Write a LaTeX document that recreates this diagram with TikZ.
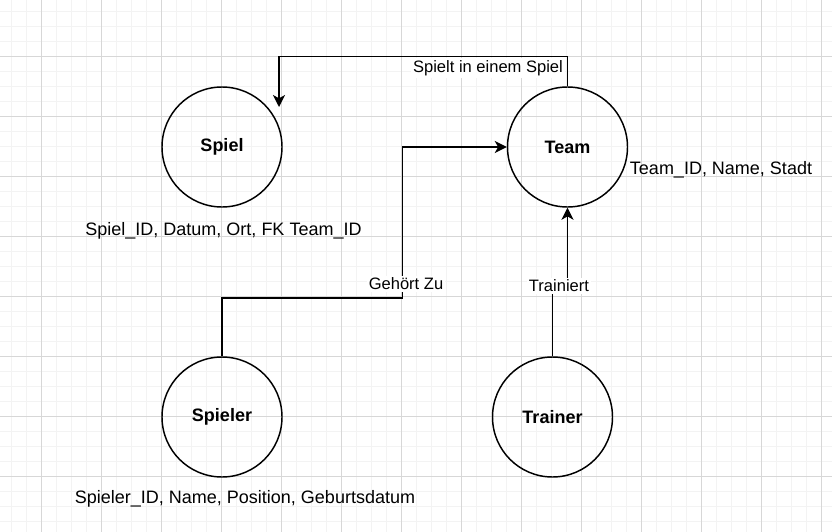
\documentclass[tikz,border=0pt]{standalone}
\usepackage{fontspec}
\setmainfont{Liberation Sans}
\usetikzlibrary{arrows.meta,calc}
\definecolor{gridminor}{RGB}{243,243,243}
\definecolor{gridmajor}{RGB}{215,215,215}
\tikzset{
	entity/.style={circle,draw,line width=1.1pt,minimum size=90pt,inner sep=0,font=\bfseries\fontsize{13.5pt}{15pt}\selectfont},
	attr/.style={inner sep=1pt,font=\fontsize{13.5pt}{15pt}\selectfont},
	rel/.style={line width=1.1pt,-{Stealth[length=9pt,width=9pt,inset=2.5pt]}},
	edgelabel/.style={fill=white,inner sep=1.5pt,font=\fontsize{12.4pt}{14pt}\selectfont}
}
\begin{document}
\begin{tikzpicture}[x=0.75pt,y=-0.75pt]
	\useasboundingbox (0,0) rectangle (832,532);
	\fill[white] (0,0) rectangle (832,532);
	% Raster
	\foreach \k in {0,...,55} {
		\draw[gridminor,line width=0.6pt] ({11.7+15*\k},0) -- ({11.7+15*\k},532);
	}
	\foreach \k in {0,...,35} {
		\draw[gridminor,line width=0.6pt] (0,{11.7+15*\k}) -- (832,{11.7+15*\k});
	}
	\foreach \k in {0,...,13} {
		\draw[gridmajor,line width=0.6pt] ({41.7+60*\k},0) -- ({41.7+60*\k},532);
	}
	\foreach \k in {0,...,8} {
		\draw[gridmajor,line width=0.6pt] (0,{56.7+60*\k}) -- (832,{56.7+60*\k});
	}
	% Entitaeten
	\node [entity] (spiel) at (222,147) {\raisebox{-1pt}{Spiel}};
	\node [entity] (team) at (567.5,147) {\raisebox{-1pt}{Team}};
	\node [entity] (spieler) at (222,417) {\raisebox{-1pt}{Spieler}};
	\node [entity] (trainer) at (552.5,417) {\raisebox{-1pt}{Trainer}};
	% Attribute
	\node [attr] (spielattr) at (223.5,230.5) {Spiel\_ID, Datum, Ort, FK Team\_ID};
	\node [attr] (teamattr) at (721,169.5) {Team\_ID, Name, Stadt};
	\node [attr] (spielerattr) at (245,498.5) {Spieler\_ID, Name, Position, Geburtsdatum};
	% Beziehungen
	\coordinate (spielin) at (279,107);
	\coordinate (gehoertknick) at (402.5,298);
	\coordinate (trainknick) at (560,285);
	\draw [rel] (team.north) -- ++(0,-30) -| (spielin);
	\draw [rel] (spieler.north) |- (gehoertknick) |- (team.west);
	\draw [rel] (trainer.north) |- (trainknick) -| (team.south);
	\node [edgelabel] (spieltlbl) at (488,68) {Spielt in einem Spiel};
	\node [edgelabel] (gehoertlbl) at (406,284) {Gehört Zu};
	\node [edgelabel] (trainlbl) at (559,286) {Trainiert};
\end{tikzpicture}
\end{document}
